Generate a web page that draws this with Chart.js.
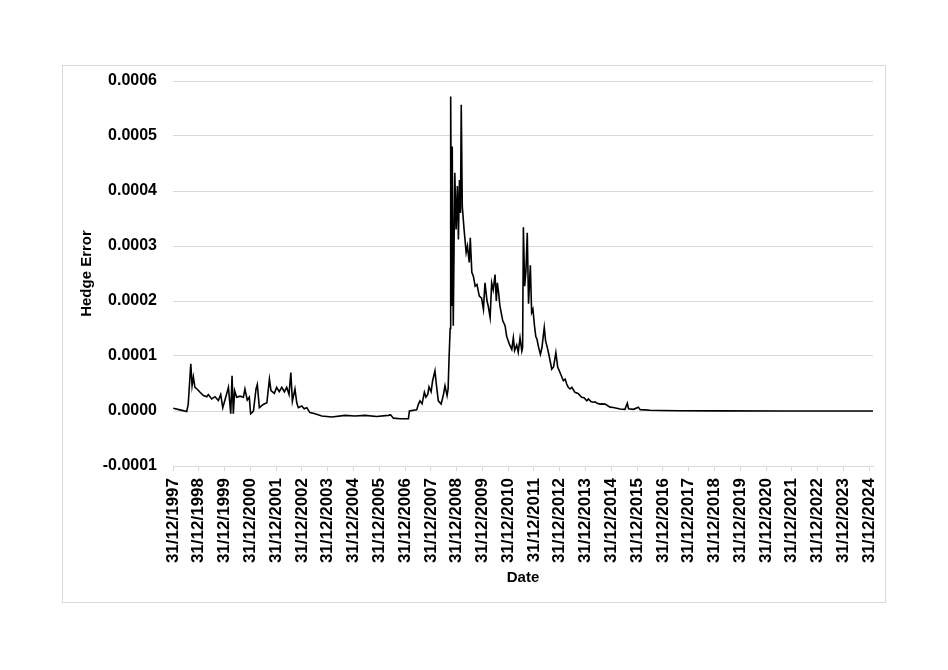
<!DOCTYPE html>
<html>
<head>
<meta charset="utf-8">
<script src="https://cdn.jsdelivr.net/npm/chart.js@4/dist/chart.umd.min.js"></script>
<style>
  body { margin: 0; background: #fff; }
  #moldura { position: absolute; left: 62px; top: 65px; width: 822px; height: 536px; border: 1px solid #d9d9d9; }
  #grafico { position: absolute; left: 0; top: 0; }
</style>
</head>
<body>
<div id="moldura"></div>
<canvas id="grafico" width="948" height="670"></canvas>
<script>
// Rótulos do eixo X: um por fim de ano
const rotulosDatas = [
  '31/12/1997', '31/12/1998', '31/12/1999', '31/12/2000', '31/12/2001', '31/12/2002', '31/12/2003',
  '31/12/2004', '31/12/2005', '31/12/2006', '31/12/2007', '31/12/2008', '31/12/2009', '31/12/2010',
  '31/12/2011', '31/12/2012', '31/12/2013', '31/12/2014', '31/12/2015', '31/12/2016', '31/12/2017',
  '31/12/2018', '31/12/2019', '31/12/2020', '31/12/2021', '31/12/2022', '31/12/2023', '31/12/2024'
];

// Ticks do eixo Y
const ticksY = [-0.0001, 0, 0.0001, 0.0002, 0.0003, 0.0004, 0.0005, 0.0006];

// Anos decorridos desde 31/12/1997
const anos = [
  0.01, 0.27, 0.53, 0.59, 0.69, 0.74, 0.79, 0.85, 0.93, 1.05,
  1.18, 1.31, 1.37, 1.50, 1.63, 1.76, 1.85, 1.93, 2.08, 2.15,
  2.24, 2.29, 2.34, 2.39, 2.47, 2.60, 2.73, 2.79, 2.88, 2.96,
  3.01, 3.12, 3.22, 3.27, 3.35, 3.50, 3.64, 3.74, 3.80, 3.93,
  4.02, 4.12, 4.22, 4.32, 4.41, 4.50, 4.57, 4.63, 4.73, 4.80,
  4.86, 4.99, 5.09, 5.19, 5.31, 5.51, 5.77, 6.16, 6.67, 7.06,
  7.45, 7.90, 8.35, 8.44, 8.55, 8.81, 9.13, 9.17, 9.45, 9.52,
  9.58, 9.66, 9.75, 9.81, 9.88, 9.93, 10.01, 10.07, 10.16, 10.21,
  10.29, 10.40, 10.49, 10.55, 10.63, 10.67, 10.71, 10.75, 10.77, 10.81,
  10.83, 10.87, 10.93, 10.98, 11.03, 11.07, 11.11, 11.15, 11.18, 11.22,
  11.29, 11.37, 11.42, 11.49, 11.53, 11.59, 11.65, 11.72, 11.79, 11.88,
  11.97, 12.04, 12.10, 12.18, 12.23, 12.30, 12.36, 12.42, 12.49, 12.54,
  12.58, 12.63, 12.68, 12.79, 12.88, 12.94, 13.05, 13.14, 13.20, 13.25,
  13.33, 13.39, 13.46, 13.53, 13.56, 13.59, 13.64, 13.69, 13.74, 13.79,
  13.86, 13.91, 13.96, 14.02, 14.07, 14.12, 14.17, 14.25, 14.31, 14.36,
  14.40, 14.45, 14.52, 14.59, 14.69, 14.76, 14.85, 14.92, 15.01, 15.14,
  15.21, 15.27, 15.33, 15.40, 15.47, 15.59, 15.71, 15.85, 15.94, 16.05,
  16.11, 16.21, 16.30, 16.37, 16.45, 16.56, 16.64, 16.76, 16.95, 17.08,
  17.34, 17.53, 17.62, 17.67, 17.86, 18.05, 18.12, 18.31, 18.50, 18.89,
  19.67, 21.22, 23.55, 27.15
];

// Hedge error em cada ponto acima
const erroHedge = [
  0.5e-5, 0.2e-5, -0.1e-5, 1.2e-5, 8.6e-5, 4.6e-5, 6.2e-5, 4.3e-5, 4.0e-5, 3.4e-5,
  2.8e-5, 2.6e-5, 3.0e-5, 2.2e-5, 2.6e-5, 1.9e-5, 3.0e-5, 0.6e-5, 3.1e-5, 4.3e-5,
  -0.5e-5, 6.4e-5, -0.5e-5, 3.7e-5, 2.5e-5, 2.7e-5, 2.5e-5, 4.0e-5, 2.0e-5, 2.5e-5,
  -0.5e-5, 0, 4.0e-5, 4.8e-5, 0.6e-5, 1.2e-5, 1.5e-5, 5.8e-5, 3.7e-5, 3.2e-5,
  4.3e-5, 3.5e-5, 4.3e-5, 3.5e-5, 4.3e-5, 3.0e-5, 7.0e-5, 1.8e-5, 4.0e-5, 1.5e-5,
  0.6e-5, 0.9e-5, 0.4e-5, 0.6e-5, -0.3e-5, -0.5e-5, -0.9e-5, -1.1e-5, -0.8e-5, -0.9e-5,
  -0.8e-5, -1.0e-5, -0.8e-5, -0.7e-5, -1.3e-5, -1.4e-5, -1.4e-5, 0, 0.2e-5, 1.25e-5,
  1.85e-5, 1.3e-5, 3.4e-5, 2.5e-5, 3.0e-5, 4.4e-5, 3.5e-5, 5.5e-5, 7.3e-5, 5.0e-5,
  1.85e-5, 1.25e-5, 3.0e-5, 4.6e-5, 2.8e-5, 4.0e-5, 10e-5, 15e-5, 57.2e-5, 19.1e-5,
  48.1e-5, 15.5e-5, 43.3e-5, 33e-5, 40.9e-5, 31.2e-5, 42e-5, 36e-5, 55.7e-5, 37.2e-5,
  33e-5, 28.8e-5, 30e-5, 27e-5, 31.5e-5, 25.2e-5, 24.5e-5, 22.7e-5, 23e-5, 20.9e-5,
  20.5e-5, 18.5e-5, 23.3e-5, 20e-5, 19e-5, 17e-5, 23.3e-5, 22e-5, 24.8e-5, 20e-5,
  23.3e-5, 21.5e-5, 19.1e-5, 16.4e-5, 15.5e-5, 13.6e-5, 12.1e-5, 11.2e-5, 13.3e-5, 11e-5,
  12e-5, 10.7e-5, 13.3e-5, 10.9e-5, 11.5e-5, 33.4e-5, 22.7e-5, 25.5e-5, 32.4e-5, 19.5e-5,
  26.5e-5, 17.9e-5, 18.5e-5, 15.5e-5, 13.6e-5, 13e-5, 11.8e-5, 10.3e-5, 11.5e-5, 13.6e-5,
  15.2e-5, 12.8e-5, 11.5e-5, 10.0e-5, 7.6e-5, 8.0e-5, 10.6e-5, 8.0e-5, 7.0e-5, 5.5e-5,
  5.8e-5, 4.9e-5, 4.3e-5, 4.0e-5, 4.3e-5, 3.4e-5, 3.2e-5, 2.5e-5, 2.4e-5, 1.85e-5,
  2.2e-5, 1.7e-5, 1.6e-5, 1.67e-5, 1.4e-5, 1.25e-5, 1.3e-5, 1.25e-5, 0.7e-5, 0.65e-5,
  0.35e-5, 0.3e-5, 1.4e-5, 0.4e-5, 0.3e-5, 0.7e-5, 0.25e-5, 0.2e-5, 0.15e-5, 0.1e-5,
  0.05e-5, 0.02e-5, 0.01e-5, 0
];

const familia = "'Liberation Sans', Arial, sans-serif";
const cinza = '#d9d9d9';

new Chart(document.getElementById('grafico'), {
  type: 'line',
  data: {
    datasets: [{
      data: anos.map((a, i) => ({ x: a, y: erroHedge[i] })),
      borderColor: '#000',
      borderWidth: 1.6,
      pointRadius: 0,
      tension: 0,
      fill: false
    }]
  },
  options: {
    responsive: false,
    animation: false,
    devicePixelRatio: 1,
    layout: { padding: { left: 0, top: 81, right: 75, bottom: 0 } },
    plugins: { legend: { display: false }, tooltip: { enabled: false } },
    scales: {
      x: {
        type: 'linear',
        min: 0,
        max: 27.15,
        afterBuildTicks: s => { s.ticks = rotulosDatas.map((r, i) => ({ value: i })); },
        afterFit: s => { s.height = 204; },
        ticks: {
          autoSkip: false,
          minRotation: 90,
          maxRotation: 90,
          padding: 7,
          color: '#000',
          font: { family: familia, size: 17, weight: 'bold' },
          callback: v => rotulosDatas[v]
        },
        grid: { drawOnChartArea: false, drawTicks: true, tickLength: 5, tickColor: cinza },
        border: { display: true, color: cinza, width: 1 },
        title: { display: true, text: 'Date', color: '#000', font: { family: familia, size: 15, weight: 'bold' }, padding: { top: 0, bottom: 83 } }
      },
      y: {
        min: -0.0001,
        max: 0.0006,
        afterBuildTicks: s => { s.ticks = ticksY.map(v => ({ value: v })); },
        afterFit: s => { s.width = 173; },
        ticks: {
          padding: 16,
          color: '#000',
          font: { family: familia, size: 16, weight: 'bold' },
          callback: v => v.toFixed(4)
        },
        grid: { color: cinza, lineWidth: 1, drawTicks: false },
        border: { display: false },
        title: { display: true, text: 'Hedge Error', color: '#000', font: { family: familia, size: 15, weight: 'bold' }, padding: { top: 78, bottom: 0 } }
      }
    }
  }
});
</script>
</body>
</html>
